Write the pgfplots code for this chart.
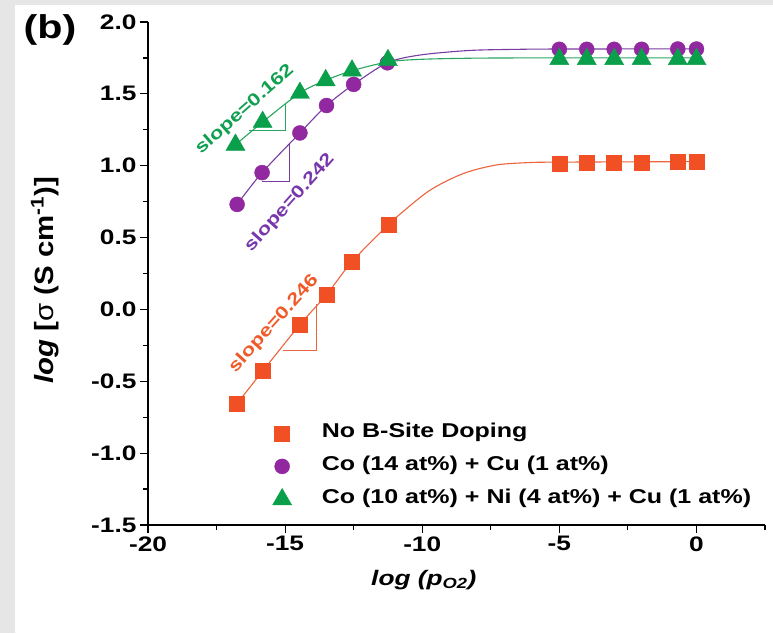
\documentclass[border=0pt]{standalone}
\usepackage{fontspec}
\setmainfont{Liberation Sans}[FakeStretch=1.25]
\usepackage{pgfplots}
\pgfplotsset{compat=1.18}
\definecolor{orangeM}{RGB}{240,80,35}
\definecolor{orangeL}{RGB}{236,100,60}
\definecolor{orangeT}{RGB}{240,90,40}
\definecolor{purpleM}{RGB}{145,40,160}
\definecolor{purpleL}{RGB}{120,60,160}
\definecolor{purpleT}{RGB}{120,55,170}
\definecolor{greenM}{RGB}{10,160,75}
\definecolor{greenL}{RGB}{40,165,95}
\definecolor{greenT}{RGB}{15,160,80}
\definecolor{bgray}{RGB}{230,230,230}
\begin{document}
\begin{tikzpicture}
\fill[bgray] (0,0) rectangle (773pt,633pt);
\fill[white] (15pt,0) rectangle (773pt,628pt);
\begin{axis}[
  at={(148pt,108pt)}, anchor=south west,
  scale only axis, width=617pt, height=503pt,
  xmin=-20, xmax=2.5, ymin=-1.5, ymax=2,
  axis lines=left, axis line style={-, line width=1.4pt},
  tick align=outside, major tick length=8pt, minor tick length=5pt,
  every tick/.style={black, line width=1.2pt},
  xtick={-20,-15,-10,-5,0}, minor xtick={-17.5,-12.5,-7.5,-2.5,2.5},
  ytick={-1.5,-1,-0.5,0,0.5,1,1.5,2},
  minor ytick={-1.25,-0.75,-0.25,0.25,0.75,1.25,1.75},
  /pgf/number format/assume math mode=true,
  yticklabel style={/pgf/number format/.cd, fixed, fixed zerofill, precision=1},
  tick label style={font=\fontsize{21}{21}\selectfont\bfseries},
  xlabel={\bfseries\itshape log (p\textsubscript{O2})},
  ylabel={\bfseries\itshape log \upshape[{\mdseries σ} (S cm\textsuperscript{-1})]},
  xlabel style={font=\fontsize{21}{21}\selectfont, at={(axis description cs:0.447,-0.11)}, anchor=center},
  ylabel style={font=\fontsize{23.5}{23.5}\selectfont, at={(axis description cs:-0.167,0.487)}, anchor=center, yscale=1.12},
  clip=false,
  legend cell align=left,
  legend image code/.code={\path (0cm,0cm) (1.62cm,0cm); \draw[#1] plot coordinates {(0.3cm,0cm)};},
  legend style={draw=none, fill=none, inner sep=0pt, outer sep=0pt,
    at={(rel axis cs:0.202,0.205)}, anchor=north west,
    font=\fontsize{20}{20}\selectfont\bfseries, row sep=10pt,
    nodes={inner sep=2pt, text height=14pt, text depth=5pt}},
]
% fitted curves
\addplot[orangeL, line width=1.1pt, smooth, tension=0.5, forget plot] coordinates {
(-16.76,-0.657) (-15.81,-0.427) (-14.46,-0.106) (-13.49,0.103) (-12.56,0.333) (-11.23,0.591)
(-10.94,0.642) (-9.73,0.828) (-8.51,0.945) (-7.30,1.005) (-6.08,1.022) (-5,1.025) (-0.68,1.028) (0,1.028)};
\addplot[purpleL, line width=1.1pt, smooth, tension=0.5, forget plot] coordinates {
(-16.75,0.731) (-15.84,0.952) (-14.46,1.228) (-13.49,1.419) (-12.50,1.566) (-11.27,1.716)
(-10.09,1.770) (-8.27,1.802) (-6.45,1.810) (-5,1.812) (0,1.813)};
\addplot[greenL, line width=1.1pt, smooth, tension=0.5, forget plot] coordinates {
(-16.81,1.145) (-15.82,1.304) (-14.46,1.506) (-13.52,1.594) (-12.56,1.661) (-11.25,1.722)
(-10.09,1.740) (-8.27,1.748) (-6.45,1.750) (-5,1.750) (0,1.750)};
% slope triangles
\addplot[orangeL, line width=1pt, forget plot] coordinates {(-15.09,-0.287) (-13.85,-0.287) (-13.85,0.04)};
\addplot[purpleL, line width=1pt, forget plot] coordinates {(-15.84,0.893) (-14.83,0.893) (-14.83,1.154)};
\addplot[greenL, line width=1pt, forget plot] coordinates {(-16.31,1.248) (-14.98,1.248) (-14.98,1.432)};
% data
\addplot[only marks, mark=square*, mark size=7.5pt, color=orangeM, mark options={fill=orangeM, draw=orangeM}] coordinates {
(-16.76,-0.657) (-15.81,-0.427) (-14.46,-0.106) (-13.49,0.103) (-12.56,0.333) (-11.23,0.591)
(-5,1.015) (-4,1.018) (-3,1.022) (-2,1.022) (-0.68,1.028) (0,1.028)};
\addplot[only marks, mark=*, mark size=7.5pt, color=purpleM, mark options={fill=purpleM, draw=purpleM}] coordinates {
(-16.75,0.731) (-15.84,0.952) (-14.46,1.228) (-13.49,1.419) (-12.50,1.566) (-11.27,1.716)
(-5,1.810) (-4,1.810) (-3,1.810) (-2,1.810) (-0.68,1.812) (0,1.812)};
\addplot[only marks, mark=triangle*, mark size=11pt, color=greenM, mark options={fill=greenM, draw=greenM}] coordinates {
(-16.81,1.145) (-15.82,1.304) (-14.46,1.506) (-13.52,1.594) (-12.56,1.661) (-11.25,1.734)
(-5,1.742) (-4,1.742) (-3,1.742) (-2,1.742) (-0.68,1.742) (0,1.742)};
\legend{No B-Site Doping, Co (14 at\%) + Cu (1 at\%), Co (10 at\%) + Ni (4 at\%) + Cu (1 at\%)}
\node[rotate=48, text=orangeT, font=\fontsize{17.5}{17.5}\selectfont\bfseries] at (axis cs:-15.41,-0.10) {slope=0.246};
\node[rotate=48, text=purpleT, font=\fontsize{17.5}{17.5}\selectfont\bfseries] at (axis cs:-14.83,0.74) {slope=0.242};
\node[rotate=41.5, text=greenT, font=\fontsize{17.5}{17.5}\selectfont\bfseries] at (axis cs:-16.47,1.39) {slope=0.162};
\end{axis}
\node[font=\fontsize{33}{33}\selectfont\bfseries] at (50pt,603pt) {(b)};
\end{tikzpicture}
\end{document}
